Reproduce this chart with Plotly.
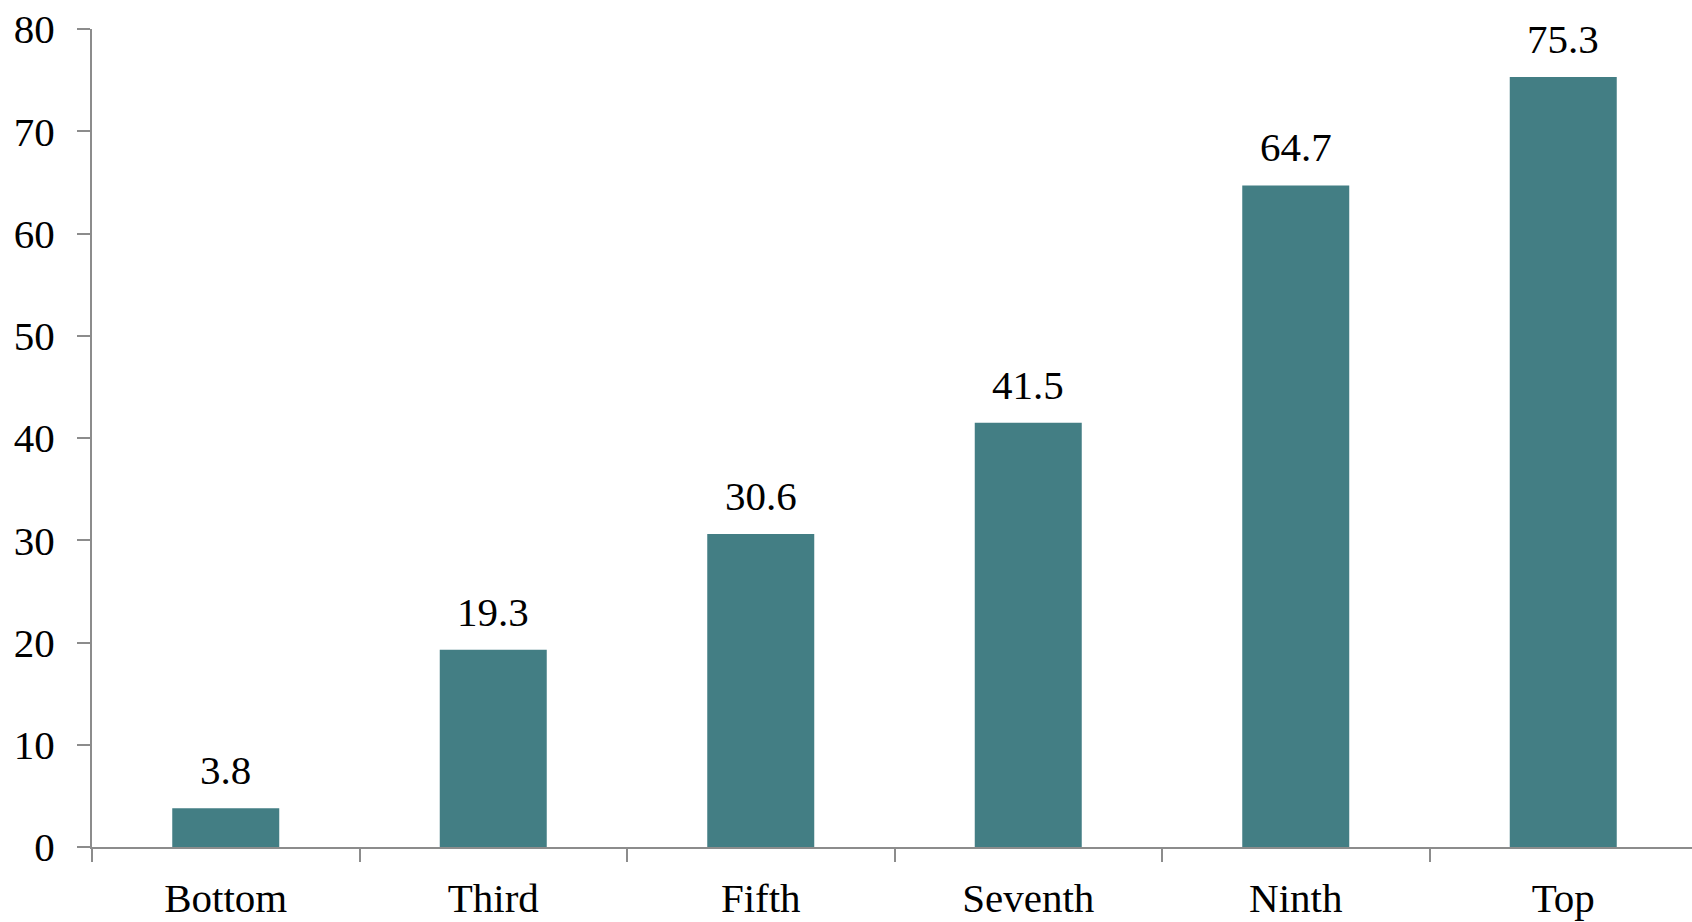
import plotly.graph_objects as go

# deciles and values
categories = ["Bottom", "Third", "Fifth", "Seventh", "Ninth", "Top"]
values = [3.8, 19.3, 30.6, 41.5, 64.7, 75.3]
y_ticks = [0, 10, 20, 30, 40, 50, 60, 70, 80]

BAR_COLOR = "#437E84"
AXIS_COLOR = "#8C8C8C"
FONT = dict(family="Liberation Serif, Times New Roman, serif", size=41, color="black")

fig = go.Figure(
    go.Bar(
        x=categories,
        y=values,
        marker_color=BAR_COLOR,
        marker_line_width=0,
        width=0.4,
    )
)

# value labels above each bar
for cat, val in zip(categories, values):
    fig.add_annotation(
        x=cat,
        y=val,
        text=f"{val:.1f}",
        showarrow=False,
        yanchor="bottom",
        yshift=13,
        font=FONT,
    )

fig.update_xaxes(
    showline=True,
    linecolor=AXIS_COLOR,
    linewidth=2,
    ticks="outside",
    tickson="boundaries",
    ticklen=13,
    tickwidth=2,
    tickcolor=AXIS_COLOR,
    ticklabelstandoff=14,
    ticklabeloverflow="allow",
    showgrid=False,
    tickfont=FONT,
    automargin=False,
)
fig.update_yaxes(
    range=[0, 80],
    tickvals=y_ticks,
    showline=True,
    linecolor=AXIS_COLOR,
    linewidth=2,
    ticks="outside",
    ticklen=13,
    tickwidth=2,
    tickcolor=AXIS_COLOR,
    ticklabelstandoff=14,
    ticklabeloverflow="allow",
    showgrid=False,
    zeroline=False,
    tickfont=FONT,
    automargin=False,
)
# plot area runs a few px past the right edge, so the last boundary tick is off-page
fig.update_layout(
    width=1697,
    height=922,
    margin=dict(l=92, r=0, t=29, b=75),
    plot_bgcolor="white",
    paper_bgcolor="white",
    showlegend=False,
    font=FONT,
)

# drop the default body margin so the figure fills the window exactly
fig.write_html(
    "out.html",
    config={"displayModeBar": False},
    post_script="document.body.style.margin = '0'; document.body.style.overflow = 'hidden';",
)
